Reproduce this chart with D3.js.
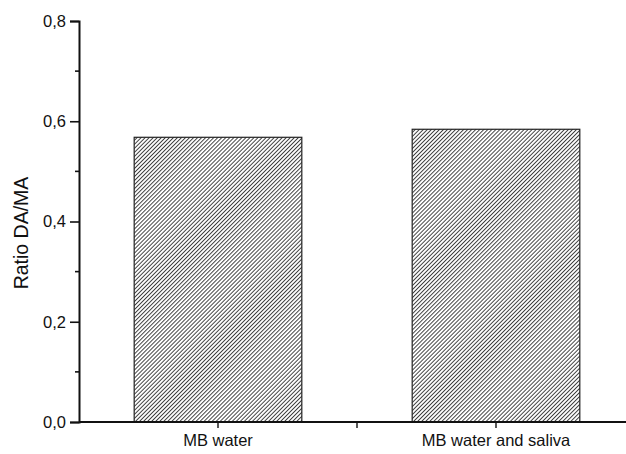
<!DOCTYPE html>
<html><head><meta charset="utf-8">
<script src="https://cdn.jsdelivr.net/npm/d3@7"></script>
<style>body{margin:0;background:#fff}svg text{font-family:"Liberation Sans",Arial,sans-serif;fill:#111}</style>
</head><body><svg id="c" width="626" height="454"></svg>
<script>
const categories = ["MB water", "MB water and saliva"];
const values = [0.568, 0.584];
const yTicks = [0.0, 0.2, 0.4, 0.6, 0.8];
const yMinorTicks = [0.1, 0.3, 0.5, 0.7];
const yTitle = "Ratio DA/MA";

const svg = d3.select("#c");
const x = d3.scaleBand().domain(categories).range([79, 635]).paddingInner(0).paddingOuter(0);
const y = d3.scaleLinear().domain([0, 0.8]).range([422, 21]);

const defs = svg.append("defs");
const pat = defs.append("pattern").attr("id","hatch").attr("patternUnits","userSpaceOnUse")
  .attr("width",2.85).attr("height",6).attr("patternTransform","rotate(45)");
pat.append("line").attr("x1",0.5).attr("y1",0).attr("x2",0.5).attr("y2",6)
  .attr("stroke","#2a2a2a").attr("stroke-width",0.9);

const bw = x.bandwidth()*0.603;
svg.selectAll("rect.bar").data(values).join("rect").attr("class","bar")
  .attr("x",(d,i)=>x(categories[i])+x.bandwidth()/2-bw/2)
  .attr("width",bw)
  .attr("y",d=>y(d)).attr("height",d=>y(0)-y(d))
  .attr("fill","url(#hatch)").attr("stroke","#222").attr("stroke-width",1.2);

// y axis
const ya = svg.append("g").attr("transform","translate(79,0)")
  .call(d3.axisLeft(y).tickValues(yTicks).tickFormat(d=>d3.format(".1f")(d).replace(".",",")).tickSize(9).tickPadding(4));
ya.attr("font-size",null).attr("font-family",null);
ya.select(".domain").attr("stroke","#111").attr("stroke-width",2);
ya.selectAll(".tick line").attr("stroke","#111").attr("stroke-width",1.6);
ya.selectAll(".tick text").style("font-size","16.5px").attr("fill","#111");
svg.append("g").selectAll("line").data(yMinorTicks).join("line")
  .attr("x1",75).attr("x2",79).attr("y1",d=>y(d)).attr("y2",d=>y(d))
  .attr("stroke","#111").attr("stroke-width",1.6);

// x axis
const xa = svg.append("g").attr("transform","translate(0,422)");
xa.append("line").attr("x1",79).attr("x2",626).attr("y1",0).attr("y2",0).attr("stroke","#111").attr("stroke-width",2);
const xTickPos = categories.map(c=>x(c)+x.bandwidth()/2).concat([x(categories[1])]);
xa.selectAll("line.t").data(xTickPos).join("line").attr("class","t")
  .attr("x1",d=>d).attr("x2",d=>d).attr("y1",0).attr("y2",6).attr("stroke","#111").attr("stroke-width",1.4);
xa.selectAll("text").data(categories).join("text")
  .attr("x",c=>x(c)+x.bandwidth()/2).attr("y",24).attr("text-anchor","middle")
  .style("font-size","16.5px").text(d=>d);

svg.append("text").attr("transform","translate(28,233) rotate(-90)").attr("text-anchor","middle")
  .style("font-size","19.5px").text(yTitle);
</script></body></html>
